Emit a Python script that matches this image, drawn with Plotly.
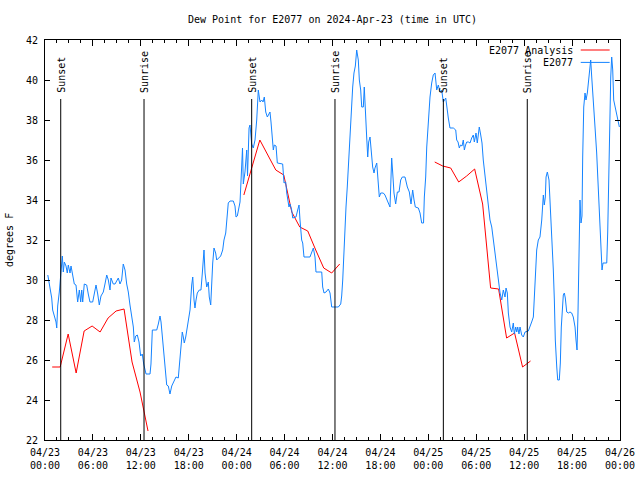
import plotly.graph_objects as go
import pandas as pd

# ---------------- data ----------------
start = pd.Timestamp("2024-04-23 00:00")

# observed dew point (E2077), hours since 2024-04-23 00:00 UTC
obs_hours = [
    0.35, 0.63, 0.84, 0.96, 1.13, 1.38, 1.47, 1.59, 1.79, 1.97, 2.17, 2.29, 2.42, 2.63, 2.79, 2.92,
    3.13, 3.26, 3.47, 3.67, 3.88, 4.09, 4.30, 4.47, 4.60, 4.72, 4.92, 5.22, 5.42, 5.63, 5.97, 6.17,
    6.39, 6.60, 6.80, 7.01, 7.30, 7.51, 7.73, 7.93, 8.14, 8.26, 8.55, 8.77, 8.98, 9.18, 9.39, 9.60,
    9.80, 10.02, 10.23, 10.43, 10.64, 10.86, 11.06, 11.18, 11.36, 11.56, 11.77, 11.98, 12.18, 12.36,
    12.65, 13.15, 13.27, 13.44, 13.99, 14.19, 14.40, 14.53, 14.69, 14.81, 15.03, 15.24, 15.44, 15.65,
    15.87, 16.07, 16.40, 16.69, 16.82, 16.99, 17.19, 17.32, 17.44, 17.62, 17.82, 18.03, 18.16, 18.37,
    18.50, 18.66, 18.78, 18.91, 19.07, 19.32, 19.53, 19.70, 19.91, 20.04, 20.25, 20.45, 20.57, 20.75,
    20.87, 21.00, 21.16, 21.37, 21.50, 21.70, 22.00, 22.25, 22.41, 22.63, 22.75, 22.95, 23.17, 23.58,
    23.79, 23.92, 24.08, 24.29, 24.42, 24.51, 24.63, 24.73, 24.83, 25.04, 25.26, 25.36, 25.55, 25.67,
    25.88, 26.08, 26.30, 26.51, 26.71, 26.92, 27.14, 27.30, 27.46, 27.64, 27.84, 28.17, 28.30, 28.46,
    28.59, 28.71, 28.93, 29.09, 29.76, 29.93, 30.14, 30.27, 30.55, 30.68, 30.89, 31.02, 31.43, 31.64,
    31.81, 31.93, 32.02, 32.14, 32.27, 32.43, 33.18, 33.40, 33.60, 33.81, 33.93, 34.65, 34.77, 34.94,
    35.19, 35.48, 35.69, 35.90, 36.73, 37.03, 37.15, 37.28, 37.44, 37.57, 37.69, 37.85, 37.98, 38.10,
    38.28, 38.40, 38.53, 38.69, 38.86, 39.03, 39.23, 39.36, 39.53, 39.66, 39.86, 39.98, 40.11, 40.28,
    40.41, 40.53, 40.70, 40.86, 41.03, 41.20, 41.32, 41.54, 41.66, 41.86, 42.04, 42.36, 42.57, 42.79,
    43.04, 43.20, 43.33, 43.41, 43.54, 43.70, 43.91, 44.12, 44.33, 44.54, 44.74, 45.08, 45.37, 45.62,
    45.83, 46.04, 46.21, 46.37, 46.75, 46.96, 47.17, 47.40, 47.50, 47.67, 47.80, 48.00, 48.21, 48.42,
    48.62, 48.84, 49.05, 49.25, 49.46, 49.67, 49.88, 50.18, 50.30, 50.50, 50.71, 51.13, 51.43, 51.55,
    51.72, 51.88, 52.03, 52.22, 52.38, 52.51, 52.66, 52.81, 53.01, 53.22, 53.43, 53.63, 53.76, 53.97,
    54.13, 54.26, 54.38, 54.56, 54.72, 54.88, 55.10, 55.31, 55.51, 55.72, 55.94, 56.14, 56.35, 56.56,
    56.76, 56.98, 57.19, 57.39, 57.60, 57.73, 57.89, 58.02, 58.23, 58.44, 58.64, 58.77, 58.94, 59.07,
    59.19, 59.35, 59.48, 59.69, 59.89, 60.11, 60.52, 60.73, 60.94, 61.15, 61.27, 61.45, 61.57, 61.77,
    61.98, 62.20, 62.32, 62.40, 62.52, 62.65, 62.74, 62.90, 63.11, 63.24, 63.36, 63.49, 63.65, 63.78,
    63.90, 64.08, 64.20, 64.40, 64.53, 64.65, 64.78, 64.90, 65.03, 65.15, 65.33, 65.53, 65.74, 65.95,
    66.15, 66.37, 66.49, 66.62, 66.74, 66.87, 66.99, 67.12, 67.24, 67.33, 67.46, 67.62, 67.74, 67.91,
    68.03, 68.16, 68.33, 68.46, 68.66, 68.87, 69.08, 69.28, 69.50, 69.62, 69.75, 69.87, 70.34, 70.46,
    70.59, 70.71, 70.84, 70.96, 71.09, 71.21, 71.38, 71.59, 71.79, 71.92,
]
obs_dewpt = [
    30.25, 29.6, 29.1, 28.5, 28.3, 27.9, 27.6, 28.7, 29.4, 30.35, 31.2, 30.4, 30.9, 30.7, 30.35, 30.75,
    30.35, 30.7, 30.2, 29.8, 29.75, 28.9, 29.5, 28.9, 29.5, 28.9, 29.8, 29.75, 29.3, 28.9, 28.9, 29.3,
    29.75, 29.3, 28.75, 29.2, 29.4, 29.8, 30.25, 30.0, 29.5, 30.1, 29.8, 29.8, 30.0, 30.1, 29.8, 30.0,
    30.8, 30.5, 29.8, 29.4, 28.75, 28.25, 27.65, 26.9, 27.2, 27.25, 26.9, 26.2, 26.3, 25.8,
    25.3, 25.3, 25.8, 27.5, 27.5, 27.8, 28.2, 27.9, 27.15, 26.5, 25.4, 24.75, 24.7, 24.3,
    24.7, 24.9, 25.15, 25.1, 25.65, 26.65, 27.4, 27.15, 26.85, 27.15, 27.65, 28.1, 28.5, 29.75,
    30.15, 29.0, 28.6, 29.0, 29.35, 29.5, 29.5, 30.35, 31.5, 30.35, 29.65, 29.9, 29.15, 28.75,
    30.35, 30.85, 31.6, 31.35, 31.0, 31.1, 31.2, 31.5, 32.0, 32.35, 32.85, 33.85, 33.95, 33.95,
    33.7, 33.15, 33.2, 33.7, 33.9, 34.65, 36.0, 36.6, 34.8, 35.4, 36.5, 35.2, 37.6, 37.75,
    36.8, 36.6, 37.0, 38.0, 39.5, 38.9, 39.0, 38.9, 39.15, 38.4, 38.15, 38.4, 37.9, 37.0,
    36.5, 36.75, 36.7, 35.85, 35.8, 34.85, 34.9, 34.35, 33.65, 33.8, 33.5, 33.1, 33.15, 33.5,
    33.75, 33.0, 32.35, 32.0, 31.85, 31.15, 31.15, 31.35, 31.6, 31.15, 30.4, 30.4, 29.65, 29.35,
    29.4, 29.55, 29.35, 28.65, 28.65, 28.8, 29.2, 30.0, 31.65, 32.65, 33.65, 34.65, 35.65, 36.5,
    37.5, 38.65, 39.65, 40.35, 40.7, 41.5, 41.0, 40.0, 39.5, 38.65, 38.65, 39.65, 38.8, 37.15,
    36.15, 36.9, 37.15, 36.3, 35.65, 35.35, 35.6, 35.85, 35.35, 34.15, 34.35, 34.35, 34.25, 34.0,
    33.8, 33.65, 35.0, 36.1, 35.35, 34.35, 33.8, 34.4, 34.4, 35.0, 35.15, 35.15, 34.65, 34.4,
    33.8, 34.5, 34.0, 33.65, 33.6, 33.35, 32.85, 32.85, 34.15, 35.15, 36.65, 38.15, 39.15, 39.85,
    40.25, 40.35, 39.5, 39.75, 39.4, 39.5, 38.9, 39.1, 38.65, 38.1, 37.6, 37.6, 37.5, 37.0,
    36.9, 36.6, 36.75, 36.7, 37.0, 36.5, 36.75, 36.9, 36.9, 36.85, 37.1, 37.25, 36.9, 37.35,
    36.85, 37.4, 37.65, 37.25, 36.85, 36.0, 35.15, 34.35, 33.65, 33.0, 32.65, 32.0, 31.35, 30.65,
    30.15, 29.35, 29.0, 29.5, 29.15, 29.6, 29.35, 28.35, 27.65, 27.4, 27.85, 27.3, 27.65, 27.4,
    27.65, 27.3, 27.65, 27.25, 27.15, 27.4, 27.45, 27.65, 27.9, 28.15, 29.35, 30.35, 31.5, 32.0,
    32.15, 33.0, 33.65, 34.25, 33.75, 34.15, 35.15, 35.4, 35.0, 34.0, 32.65, 31.5, 30.5, 29.0,
    27.0, 25.65, 25.0, 25.0, 25.85, 27.65, 28.65, 29.25, 29.35, 29.1, 28.4, 28.35, 28.4, 28.35,
    28.15, 27.65, 27.0, 26.5, 28.35, 32.15, 34.0, 32.85, 33.2, 36.15, 38.65, 39.35, 39.0, 39.35,
    39.85, 40.35, 41.0, 40.15, 38.65, 37.65, 36.35, 34.65, 32.65, 31.5, 30.5, 30.85, 30.85, 32.35,
    35.65, 38.15, 40.15, 41.15, 40.5, 39.0, 38.65, 38.15, 37.85, 37.65,
]

# analysis (three overnight segments, hourly)
ana1_hours = [0.9 + k for k in range(13)]
ana1_dewpt = [25.65, 25.65, 27.3, 25.35, 27.45, 27.7, 27.4, 28.1, 28.45, 28.55, 25.9, 24.4, 22.45]
ana2_hours = [24.9 + k for k in range(13)]
ana2_dewpt = [34.25, 35.65, 37.0, 36.25, 35.5, 35.25, 33.4, 32.65, 32.45, 31.5, 30.6, 30.35, 30.8]
ana3_hours = [48.8 + k for k in range(13)]
ana3_dewpt = [35.9, 35.7, 35.6, 34.9, 35.2, 35.55, 33.8, 29.6, 29.55, 27.1, 27.35, 25.65, 25.95]

# sun events
sun_hours = [1.97, 12.40, 25.88, 36.31, 49.88, 60.39]
sun_labels = ["Sunset", "Sunrise", "Sunset", "Sunrise", "Sunset", "Sunrise"]
sun_line_top = 39.05

tick_hours = list(range(0, 73, 6))
tick_labels = [(start + pd.Timedelta(hours=h)).strftime("%m/%d<br>%H:%M") for h in tick_hours]

# ---------------- figure ----------------
FONT = "DejaVu Sans Mono"
RED = "#ff0000"
BLUE = "#1483ff"

ana_hours = ana1_hours + [None] + ana2_hours + [None] + ana3_hours
ana_dewpt = ana1_dewpt + [None] + ana2_dewpt + [None] + ana3_dewpt

fig = go.Figure()
fig.add_trace(go.Scatter(x=ana_hours, y=ana_dewpt, mode="lines", name="E2077 Analysis",
                         line=dict(color=RED, width=1), connectgaps=False))
fig.add_trace(go.Scatter(x=obs_hours, y=obs_dewpt, mode="lines", name="E2077",
                         line=dict(color=BLUE, width=1)))

for h, lab in zip(sun_hours, sun_labels):
    fig.add_shape(type="line", xref="x", yref="y", x0=h, x1=h, y0=22, y1=sun_line_top,
                  line=dict(color="black", width=1))
    fig.add_annotation(x=h, y=sun_line_top, xref="x", yref="y", text=lab, textangle=-90,
                       showarrow=False, xanchor="center", yanchor="bottom", yshift=4,
                       font=dict(family=FONT, size=10, color="black"))

# legend (gnuplot style: text right-aligned, sample on the right)
leg_rows = [("E2077 Analysis", RED, 0.975), ("E2077", BLUE, 0.944)]
for txt, col, yy in leg_rows:
    fig.add_annotation(x=0.922, y=yy, xref="paper", yref="paper", text=txt, showarrow=False,
                       xanchor="right", yanchor="middle", font=dict(family=FONT, size=10, color="black"))
    fig.add_shape(type="line", xref="paper", yref="paper", x0=0.9317, x1=0.982, y0=yy, y1=yy,
                  line=dict(color=col, width=1))

fig.add_annotation(x=0, y=0.5, xref="paper", yref="paper", text="degrees F", textangle=-90,
                   showarrow=False, xanchor="center", yanchor="middle", xshift=-36,
                   font=dict(family=FONT, size=10, color="black"))

fig.update_layout(
    width=640, height=480,
    margin=dict(l=45, r=20, t=40, b=40, autoexpand=False),
    paper_bgcolor="white", plot_bgcolor="white",
    showlegend=False,
    title=dict(text="Dew Point for E2077 on 2024-Apr-23 (time in UTC)", x=(45 + 620) / 2 / 640,
               xanchor="center", y=1 - 19 / 480, yanchor="middle",
               font=dict(family=FONT, size=10, color="black")),
    font=dict(family=FONT, size=10, color="black"),
)
fig.update_xaxes(range=[0, 72], tickmode="array", tickvals=tick_hours, ticktext=tick_labels,
                 ticks="inside", ticklen=6, tickcolor="black", showline=True, linecolor="black",
                 linewidth=1, mirror="ticks", showgrid=False, zeroline=False, automargin=False,
                 ticklabelstandoff=3,
                 minor=dict(tickmode="linear", tick0=0, dtick=1.5, ticks="inside", ticklen=3,
                            tickcolor="black", showgrid=False),
                 tickfont=dict(family=FONT, size=10, color="black"))
fig.update_yaxes(range=[22, 42], tickmode="linear", tick0=22, dtick=2, ticks="inside", ticklen=5,
                 tickcolor="black", showline=True, linecolor="black", linewidth=1, mirror="ticks",
                 showgrid=False, zeroline=False, ticklabelstandoff=4, automargin=False,
                 tickfont=dict(family=FONT, size=10, color="black"))

fig.write_html("out.html", config={"displayModeBar": False},
               post_script="document.body.style.margin='0';document.body.style.overflow='hidden';")
